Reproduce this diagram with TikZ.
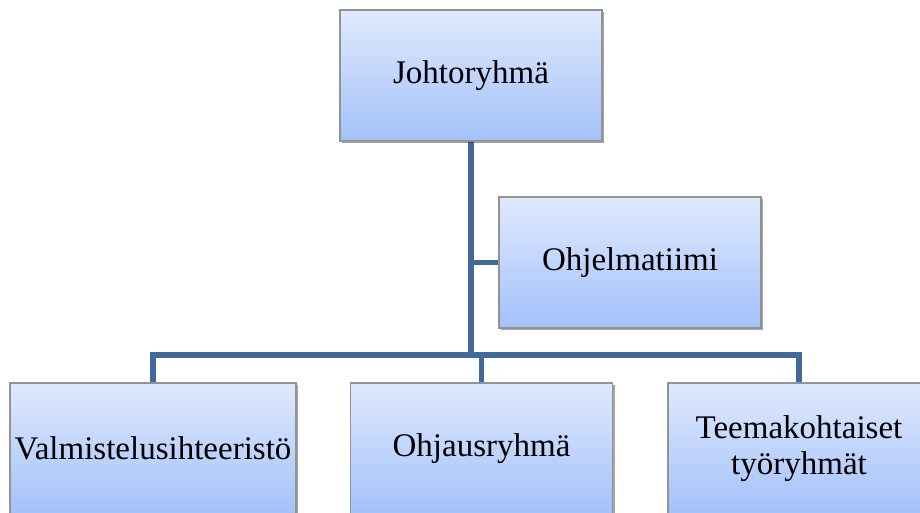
\documentclass[tikz,border=0pt]{standalone}
\usepackage{fontspec}
\setmainfont{Liberation Serif}
\usetikzlibrary{shadows,backgrounds}
\definecolor{boxtop}{HTML}{DFE9FD}
\definecolor{boxbot}{HTML}{A3C1FA}
\definecolor{linkblue}{HTML}{41699A}
\tikzset{
  orgbox/.style={draw=gray!85, line width=0.6pt, rectangle, minimum height=65.5pt, inner sep=0mm,
                 top color=boxtop, bottom color=boxbot, align=center,
                 font=\fontsize{16.5}{18}\selectfont,
                 drop shadow={shadow xshift=1pt, shadow yshift=-1pt, opacity=0.35, fill=black}},
  link/.style={draw=linkblue, line width=2.6pt},
}

\begin{document}
\begin{tikzpicture}[x=0.5pt, y=-0.5pt]
\useasboundingbox (0,0) rectangle (920,513);

%draw boxes
\node[orgbox, minimum width=131pt] (lead) at (471,75.5)  {Johtoryhmä};
\node[orgbox, minimum width=131pt] (team) at (630,262.5) {Ohjelmatiimi};
\coordinate (hub) at (471,355);

\foreach \Name/\X/\W/\Text in {%
    prep/153/143/{Valmistelusihteeristö},
    steer/481.5/131/{Ohjausryhmä},
    work/799/131/{Teemakohtaiset\\työryhmät}%
    }{
  \node[orgbox, minimum width=\W pt] (\Name) at (\X,448.5) {\Text};
}

%draw connectors
\begin{pgfonlayer}{background}
\draw[link] (lead.south) -- (hub);
\draw[link] (lead.south |- team.west) -- (team.west);
\foreach \Name in {prep,steer,work}
  \draw[link] (hub) -| (\Name.north);
\end{pgfonlayer}
\end{tikzpicture}
\end{document}
